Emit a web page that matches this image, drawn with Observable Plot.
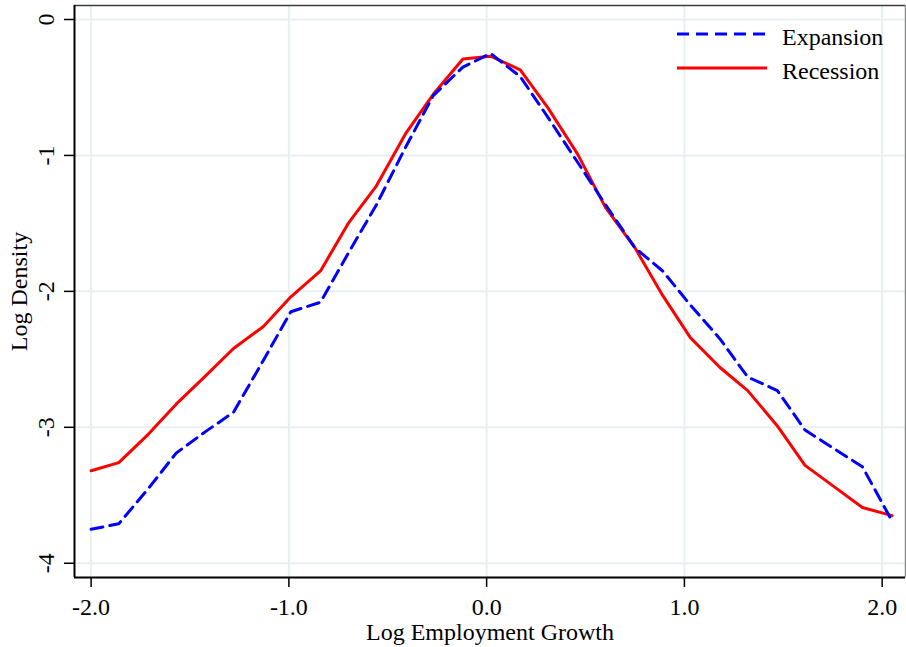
<!DOCTYPE html>
<html>
<head>
<meta charset="utf-8">
<script src="https://cdn.jsdelivr.net/npm/d3@7"></script>
<script src="https://cdn.jsdelivr.net/npm/@observablehq/plot@0.6"></script>
<style>
  html, body { margin: 0; padding: 0; background: #fff; }
  #chart svg { display: block; }
</style>
</head>
<body>
<div id="chart"></div>
<script>
// Log employment growth grid (x) and the log density estimated in each regime
const growth = [-2.00, -1.86, -1.71, -1.57, -1.42, -1.28, -1.13, -0.99, -0.84, -0.70,
                -0.56, -0.41, -0.27, -0.12, 0.02, 0.17, 0.31, 0.46, 0.60, 0.75,
                0.89, 1.03, 1.18, 1.32, 1.47, 1.61, 1.76, 1.90, 2.05];
const expansion = [-3.75, -3.71, -3.45, -3.19, -3.03, -2.89, -2.51, -2.15, -2.08, -1.72,
                   -1.37, -0.94, -0.56, -0.35, -0.25, -0.42, -0.72, -1.05, -1.36, -1.68,
                   -1.85, -2.10, -2.35, -2.63, -2.73, -3.02, -3.16, -3.29, -3.69];
const recession = [-3.32, -3.26, -3.05, -2.83, -2.62, -2.42, -2.26, -2.04, -1.85, -1.50,
                   -1.23, -0.84, -0.55, -0.29, -0.27, -0.37, -0.65, -0.99, -1.38, -1.68,
                   -2.03, -2.34, -2.56, -2.73, -2.99, -3.28, -3.44, -3.59, -3.65];

const seriesNames = ["Expansion", "Recession"];
const seriesColors = ["#0000ff", "#ff0000"];
const xTicks = [-2, -1, 0, 1, 2];
const yTicks = [0, -1, -2, -3, -4];
const xDomain = [-2.084, 2.118];
const yDomain = [-4.105, 0.103];
const xTitle = "Log Employment Growth";
const yTitle = "Log Density";

const rows = [
  ...growth.map((g, i) => ({growth: g, density: expansion[i], regime: seriesNames[0]})),
  ...growth.map((g, i) => ({growth: g, density: recession[i], regime: seriesNames[1]}))
];

const font = "'Liberation Serif', 'Times New Roman', Times, serif";
const fs = 24;
const gridColor = "#e8eff1";

const svg = Plot.plot({
  width: 906,
  height: 647,
  marginLeft: 74,
  marginRight: 1,
  marginTop: 5,
  marginBottom: 70,
  style: {fontFamily: font, fontSize: fs + "px", color: "black", background: "white"},
  x: {domain: xDomain},
  y: {domain: yDomain},
  marks: [
    Plot.gridX(xTicks, {stroke: gridColor, strokeOpacity: 1, strokeWidth: 2}),
    Plot.gridY(yTicks, {stroke: gridColor, strokeOpacity: 1, strokeWidth: 2}),
    // plot region outline: top and right edges
    Plot.ruleY([yDomain[1]], {stroke: "#3c3c3c", strokeWidth: 1.5}),
    Plot.ruleX([xDomain[1]], {stroke: "#8c8c8c", strokeWidth: 1.5}),
    // density curves
    Plot.line(rows.filter(d => d.regime === "Recession"), {
      x: "growth", y: "density", stroke: seriesColors[1], strokeWidth: 3, strokeLinejoin: "miter"
    }),
    Plot.line(rows.filter(d => d.regime === "Expansion"), {
      x: "growth", y: "density", stroke: seriesColors[0], strokeWidth: 3, strokeDasharray: "12,7", strokeLinejoin: "miter"
    }),
    // axis lines
    Plot.ruleX([xDomain[0]], {stroke: "black", strokeWidth: 2}),
    Plot.ruleY([yDomain[0]], {stroke: "black", strokeWidth: 2}),
    // ticks and tick labels
    Plot.axisX({ticks: xTicks, tickSize: 10, tickPadding: 10, tickFormat: d => d.toFixed(1), label: null,
                stroke: "black", strokeWidth: 1.5, fontSize: fs}),
    Plot.axisY({ticks: yTicks, tickSize: 10, tickFormat: () => "", label: null, stroke: "black", strokeWidth: 1.5}),
    Plot.text(yTicks, {y: d => d, frameAnchor: "left", text: d => String(d), rotate: -90, dx: -21,
                       textAnchor: "middle", lineAnchor: "bottom", fontSize: fs, fill: "black"}),
    // axis titles
    Plot.text([xTitle], {frameAnchor: "bottom", text: d => d, dy: 62, lineAnchor: "bottom", fontSize: fs, fill: "black"}),
    Plot.text([yTitle], {frameAnchor: "left", text: d => d, rotate: -90, dx: -48, textAnchor: "middle",
                         lineAnchor: "bottom", fontSize: fs, fill: "black"})
  ]
});

// legend in the upper right of the plot region
const root = d3.select(svg);
const legend = root.append("g")
  .attr("font-family", font)
  .attr("font-size", fs)
  .attr("text-anchor", "start");
seriesNames.forEach((name, i) => {
  const y = 34 + i * 34;
  legend.append("line")
    .attr("x1", 677).attr("x2", 767).attr("y1", y).attr("y2", y)
    .attr("stroke", seriesColors[i]).attr("stroke-width", 3)
    .attr("stroke-dasharray", i === 0 ? "12,7" : null);
  legend.append("text")
    .attr("x", 782).attr("y", y + 11)
    .attr("fill", "black")
    .attr("text-anchor", "start")
    .text(name);
});

document.getElementById("chart").appendChild(svg);
</script>
</body>
</html>
